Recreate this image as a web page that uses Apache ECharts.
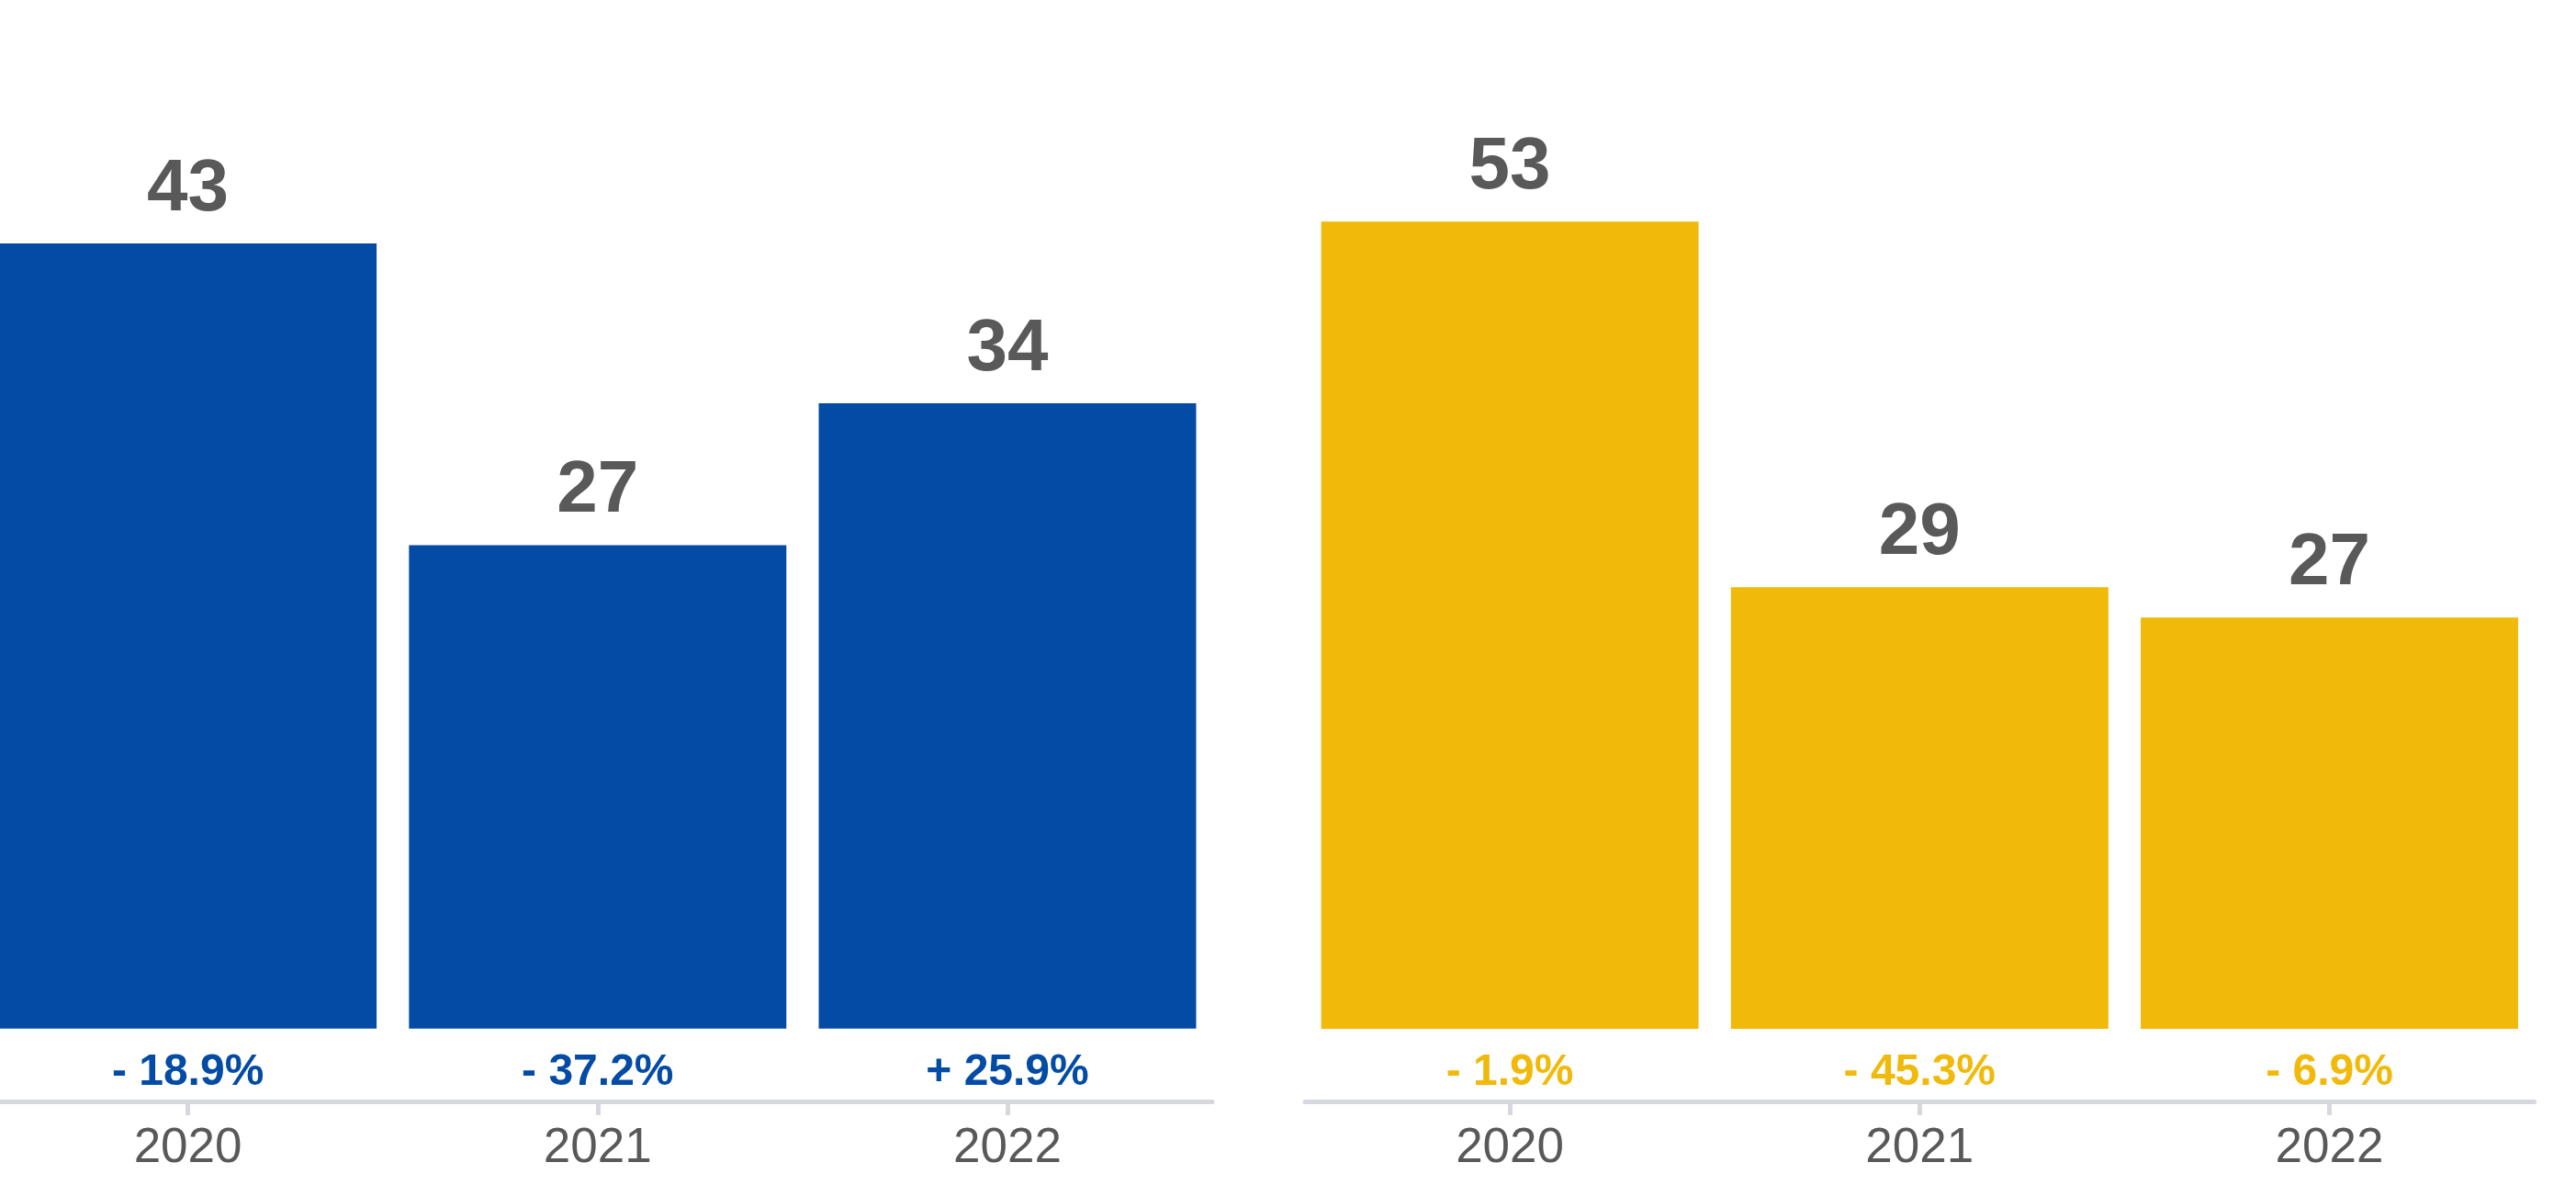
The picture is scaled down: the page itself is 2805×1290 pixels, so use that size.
<!DOCTYPE html>
<html><head><meta charset="utf-8">
<script src="https://cdn.jsdelivr.net/npm/echarts@6/dist/echarts.min.js"></script>
<style>html,body{margin:0;padding:0;background:#fff}#c{width:2805px;height:1290px}</style>
</head><body><div id="c"></div>
<script>
// ---- data ----
const years = ['2020', '2021', '2022'];
const leftValues = [43.2, 26.6, 34.4];
const leftChanges = ['- 18.9%', '- 37.2%', '+ 25.9%'];
const rightValues = [53, 29, 27];
const rightChanges = ['- 1.9%', '- 45.3%', '- 6.9%'];

// ---- styles ----
const BLUE = '#034BA5', YELLOW = '#F1B90A', GRAY = '#595959', AXIS = '#D6D8DD';
const FONT = '"Liberation Sans", Arial, Helvetica, sans-serif';

function xAxisFor(idx) {
  return {
    type: 'category', gridIndex: idx, data: years,
    axisLine: { show: true, onZero: false, lineStyle: { color: AXIS, width: 5 } },
    axisTick: { show: true, alignWithLabel: true, length: 15, lineStyle: { color: AXIS, width: 5 } },
    axisLabel: { show: true, margin: 25, fontSize: 53, color: GRAY, fontFamily: FONT }
  };
}
function seriesFor(idx, values, changes, color) {
  return [
    {
      type: 'bar', xAxisIndex: idx, yAxisIndex: idx, data: values,
      itemStyle: { color: color }, barCategoryGap: '7.9%', barGap: '-100%',
      label: { show: true, position: 'top', distance: 18, formatter: p => Math.round(p.value),
        fontSize: 80, fontWeight: 'bold', color: GRAY, fontFamily: FONT }
    },
    {
      type: 'bar', xAxisIndex: idx, yAxisIndex: idx, data: values, silent: true,
      itemStyle: { color: 'rgba(0,0,0,0)' }, barCategoryGap: '7.9%', barGap: '-100%',
      label: { show: true, position: 'bottom', distance: 24, formatter: p => changes[p.dataIndex],
        fontSize: 48, fontWeight: 'bold', color: color, fontFamily: FONT }
    }
  ];
}

const chart = echarts.init(document.getElementById('c'), null, { renderer: 'canvas' });
chart.setOption({
  animation: false,
  backgroundColor: '#fff',
  grid: [
    { left: -18.5, width: 1338.6, top: 11.6, height: 1187.4, outerBoundsMode: 'none', containLabel: false },
    { left: 1421, width: 1338.6, top: 11.6, height: 1187.4, outerBoundsMode: 'none', containLabel: false }
  ],
  xAxis: [xAxisFor(0), xAxisFor(1)],
  yAxis: [
    { type: 'value', gridIndex: 0, min: -4, max: 56, show: false },
    { type: 'value', gridIndex: 1, min: -4.76, max: 66.85, show: false }
  ],
  series: [].concat(seriesFor(0, leftValues, leftChanges, BLUE), seriesFor(1, rightValues, rightChanges, YELLOW))
});
</script></body></html>
